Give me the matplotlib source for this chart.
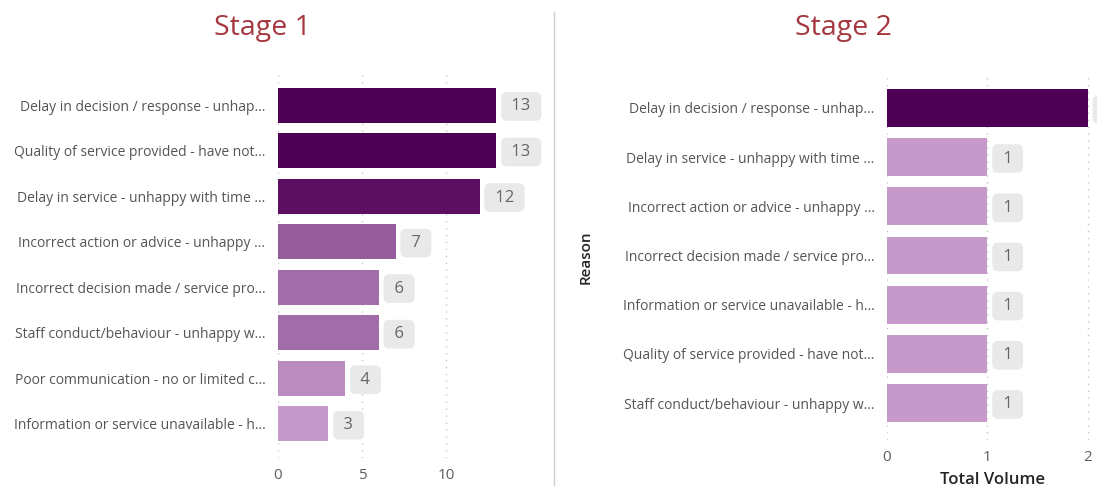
import matplotlib.pyplot as plt
from matplotlib.colors import LinearSegmentedColormap, Normalize

stage1_reasons = [
    "Delay in decision / response - unhap...",
    "Quality of service provided - have not...",
    "Delay in service - unhappy with time ...",
    "Incorrect action or advice - unhappy ...",
    "Incorrect decision made / service pro...",
    "Staff conduct/behaviour - unhappy w...",
    "Poor communication - no or limited c...",
    "Information or service unavailable - h...",
]
stage1_values = [13, 13, 12, 7, 6, 6, 4, 3]

stage2_reasons = [
    "Delay in decision / response - unhap...",
    "Delay in service - unhappy with time ...",
    "Incorrect action or advice - unhappy ...",
    "Incorrect decision made / service pro...",
    "Information or service unavailable - h...",
    "Quality of service provided - have not...",
    "Staff conduct/behaviour - unhappy w...",
]
stage2_values = [2, 1, 1, 1, 1, 1, 1]

plt.rcParams['font.family'] = ['Open Sans', 'DejaVu Sans']

cmap = LinearSegmentedColormap.from_list("purp", ["#C59ACB", "#4E0054"])
title_color = "#A4373F"
tick_color = "#605E5C"


def draw_panel(ax, reasons, values, xmax, xticks, ylim):
    norm = Normalize(min(values), max(values))
    y = range(len(values))
    ax.barh(y, values, height=0.77, color=[cmap(norm(v)) for v in values], zorder=2)
    ax.set_yticks(list(y))
    ax.set_yticklabels(reasons, fontsize=10, color="#555555")
    ax.set_xticks(xticks)
    ax.set_xticklabels([str(t) for t in xticks], fontsize=11, color=tick_color)
    ax.set_xlim(0, xmax)
    ax.set_ylim(*ylim)
    ax.tick_params(length=0, pad=9)
    ax.tick_params(axis="x", pad=7)
    ax.grid(axis="x", linestyle=(0, (1, 4)), color="#C8C8C8", linewidth=1, zorder=0)
    for s in ax.spines.values():
        s.set_visible(False)
    # value labels in grey rounded boxes
    for yi, v in zip(y, values):
        ax.annotate(" %d " % v, (v, yi), xytext=(8, -1), textcoords="offset points",
                    va="center", ha="left", fontsize=12, color="#666666",
                    bbox=dict(boxstyle="round,pad=0.38,rounding_size=0.35",
                              fc="#E9E9E9", ec="none"),
                    annotation_clip=False, zorder=3)


fig = plt.figure(figsize=(10.97, 4.92), dpi=100)

ax1 = fig.add_axes([0.2534, 0.0691, 0.2297, 0.7886])
draw_panel(ax1, stage1_reasons, stage1_values, 15, [0, 5, 10], (7.75, -0.77))
fig.text(0.239, 0.943, "Stage 1", fontsize=20.5, color=title_color, ha="center", va="center")

ax2 = fig.add_axes([0.8086, 0.1057, 0.1914, 0.7419])
draw_panel(ax2, stage2_reasons, stage2_values, 2.09, [0, 1, 2], (6.75, -0.67))
ax2.set_xlabel("Total Volume", fontsize=12, color="#252423", fontweight="semibold",
               labelpad=5)
ax2.set_ylabel("Reason", fontsize=11, color="#252423", fontweight="semibold")
ax2.yaxis.set_label_coords(-1.40, 0.5)
fig.text(0.769, 0.943, "Stage 2", fontsize=20.5, color=title_color, ha="center", va="center")

fig.add_artist(plt.Line2D([0.505, 0.505], [0.015, 0.975], color="#D0D0D0", linewidth=1))

fig.savefig("out.png", dpi=100, facecolor="white")
